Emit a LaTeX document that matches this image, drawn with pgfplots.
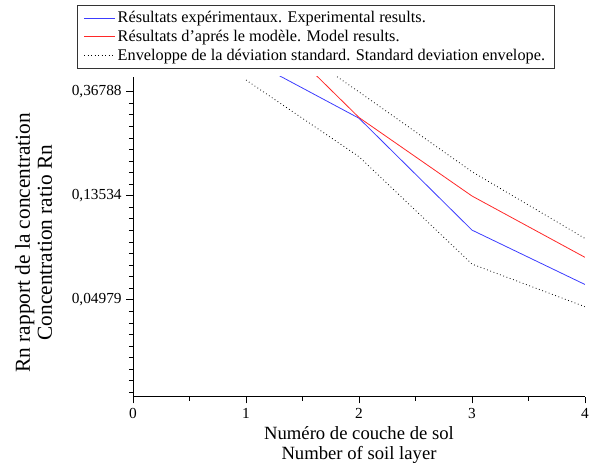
\documentclass[border=0pt]{standalone}
\usepackage{pgfplots}
\pgfplotsset{compat=1.18}
\usepackage{fontspec}
\setmainfont{Liberation Serif}
\definecolor{myblue}{RGB}{60,60,255}
\definecolor{myred}{RGB}{255,40,40}
\begin{document}
\begin{tikzpicture}
\begin{axis}[
  scale only axis,
  width=339pt, height=240pt,
  axis lines*=left,
  xmin=0, xmax=4,
  ymode=log,
  ymin=0.01964, ymax=0.4249,
  xtick={0,1,2,3,4},
  minor xtick={0.5,1.5,2.5,3.5},
  ytick={0.04979,0.13534,0.36788},
  yticklabels={{0,04979},{0,13534},{0,36788}},
  minor ytick={0.32919,0.29457,0.26360,0.23588,0.21107,0.18888,0.16901,0.15124,
    0.12110,0.10837,0.09697,0.08678,0.07765,0.06949,0.06217,0.05564,
    0.04455,0.03987,0.03567,0.03192,0.02857,0.02556,0.02287,0.02047},
  tick align=outside,
  major tick length=5pt,
  minor tick length=3pt,
  tick style={black, line width=0.6pt},
  axis line style={black, line width=0.7pt},
  /pgf/number format/assume math mode=true,
  tick label style={font=\fontsize{11.5}{13}\selectfont},
  label style={align=center},
  xlabel={Numéro de couche de sol\\Number of soil layer},
  ylabel={Rn rapport de la concentration\\Concentration ratio Rn},
  xlabel style={font=\fontsize{14}{15}\selectfont, yshift=1pt},
  ylabel style={font=\fontsize{16}{16.5}\selectfont, yshift=8pt, xshift=-4.5pt},
  legend style={at={(rel axis cs:-0.1246,1.224)}, anchor=north west,
    draw=black!80, line width=0.8pt, font=\fontsize{12.2}{12}\selectfont,
    row sep=0pt, inner xsep=5pt, inner ysep=2.5pt},
  legend cell align=left,
  legend image post style={line width=0.6pt},
  legend image code/.code={\draw[#1] (0cm,0cm) -- (0.8cm,0cm);},
]
\addplot[myblue, line width=0.6pt] coordinates {(1,0.509) (2,0.285) (3,0.0973) (4,0.0577)};
\addlegendentry{Résultats expérimentaux. Experimental results.}
\addplot[myred, line width=0.6pt] coordinates {(1,0.835) (2,0.287) (3,0.135) (4,0.0749)};
\addlegendentry{Résultats d'aprés le modèle. Model results.}
\addplot[black, line width=0.6pt, dotted] coordinates {(1,0.78) (2,0.367) (3,0.1705) (4,0.0898)};
\addlegendentry{Enveloppe de la déviation standard. Standard deviation envelope.}
\addplot[black, line width=0.6pt, dotted, forget plot] coordinates {(1,0.4115) (2,0.197) (3,0.0702) (4,0.0466)};
\end{axis}
\path (-99.75pt,-50.5pt) rectangle (349.5pt,297.5pt);
\end{tikzpicture}
\end{document}
